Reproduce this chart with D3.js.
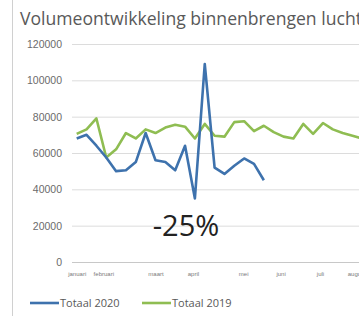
<!DOCTYPE html>
<html>
<head>
<meta charset="utf-8">
<script src="https://cdn.jsdelivr.net/npm/d3@7"></script>
<style>
  body { margin: 0; background: #fff; }
  svg { display: block; font-family: "Open Sans", "Noto Sans", sans-serif; }
</style>
</head>
<body>
<svg id="canvas"></svg>
<script>
const TITLE = "Volumeontwikkeling binnenbrengen luchtvracht";
const Y_TICKS = [0, 20000, 40000, 60000, 80000, 100000, 120000];
const MONTHS = ["januari", "februari", "maart", "april", "mei", "juni", "juli", "augustus"];
// week index where each month label sits
const MONTH_WEEKS = [0, 2.7, 8, 11.8, 16.9, 20.7, 24.7, 28.7];

const TOTAAL_2020 = [
    68000, 70000, 64000, 57500, 50000, 50500, 55000, 71000, 56000, 55000,
    50500, 64000, 35000, 109000, 52000, 48500, 53000, 57000, 54000, 45000
];
const TOTAAL_2019 = [
    70500, 73000, 79000, 57500, 62000, 71000, 68000, 73000, 71000, 74000,
    75500, 74500, 68000, 76000, 69500, 69000, 77000, 77500, 72000, 75000,
    71500, 69000, 68000, 76000, 70500, 76500, 73000, 71000, 69500, 68000
];

const SERIES = [
    { name: "Totaal 2020", values: TOTAAL_2020, color: "#3e72ad" },
    { name: "Totaal 2019", values: TOTAAL_2019, color: "#8fbd52" }
];

const width = 359;
const height = 316;
const plotLeft = 72;
const plotTop = 44;
const plotBottom = 262;

const canvas = d3.select("#canvas")
    .attr("width", width)
    .attr("height", height);

// frame edge on the left
canvas.append("line")
    .attr("x1", 12.5).attr("x2", 12.5)
    .attr("y1", 0).attr("y2", height)
    .attr("stroke", "#d0d0d0");

canvas.append("text")
    .attr("x", 20)
    .attr("y", 25)
    .attr("font-size", 17.6)
    .attr("fill", "#595959")
    .text(TITLE);

const xScale = d3.scaleLinear()
    .domain([0, 1])
    .range([76.7, 86.55]);
const yScale = d3.scaleLinear()
    .domain([0, 120000])
    .range([plotBottom, plotTop]);

//Gridlines and y labels
const yAxis = d3.axisLeft(yScale)
    .tickValues(Y_TICKS)
    .tickSize(-(width - plotLeft + 20))
    .tickPadding(10)
    .tickFormat(d3.format("d"));

const yG = canvas.append("g")
    .attr("transform", `translate(${plotLeft}, 0)`)
    .call(yAxis);
yG.select(".domain").remove();
yG.selectAll(".tick line").attr("stroke", "#dcdcdc");
yG.selectAll(".tick text")
    .attr("fill", "#6b6b6b")
    .attr("font-size", 10.5)
    .attr("font-family", "'Liberation Sans', sans-serif");
yG.selectAll(".tick")
    .filter(d => d === 0)
    .select("line").attr("stroke", "#c8c8c8");

//Month labels
const xAxis = d3.axisBottom(xScale)
    .tickValues(MONTH_WEEKS)
    .tickSize(0)
    .tickPadding(10)
    .tickFormat((d, i) => MONTHS[i]);

const xG = canvas.append("g")
    .attr("transform", `translate(0, ${plotBottom})`)
    .call(xAxis);
xG.select(".domain").remove();
xG.selectAll(".tick text")
    .attr("fill", "#7a7a7a")
    .attr("font-size", 6)
    .attr("font-family", "'Liberation Sans', sans-serif");

//Series lines
const line = d3.line()
    .x((d, i) => xScale(i))
    .y(d => yScale(d));

canvas.selectAll(".series")
    .data(SERIES.slice().reverse())
    .enter()
    .append("path")
    .attr("class", "series")
    .attr("d", d => line(d.values))
    .attr("fill", "none")
    .attr("stroke", d => d.color)
    .attr("stroke-width", 2.6)
    .attr("stroke-linejoin", "round");

canvas.append("text")
    .attr("x", 186)
    .attr("y", 236)
    .attr("text-anchor", "middle")
    .attr("font-size", 29)
    .attr("fill", "#222")
    .text("-25%");

//Legend
const legend = canvas.selectAll(".key")
    .data(SERIES)
    .enter()
    .append("g")
    .attr("class", "key")
    .attr("transform", (d, i) => `translate(${i === 0 ? 30 : 142}, 303)`);

legend.append("line")
    .attr("x1", 0).attr("x2", 29)
    .attr("y1", 0).attr("y2", 0)
    .attr("stroke", d => d.color)
    .attr("stroke-width", 2.6);

legend.append("text")
    .attr("x", 30)
    .attr("y", 4)
    .attr("font-size", 11)
    .attr("fill", "#595959")
    .text(d => d.name);
</script>
</body>
</html>
